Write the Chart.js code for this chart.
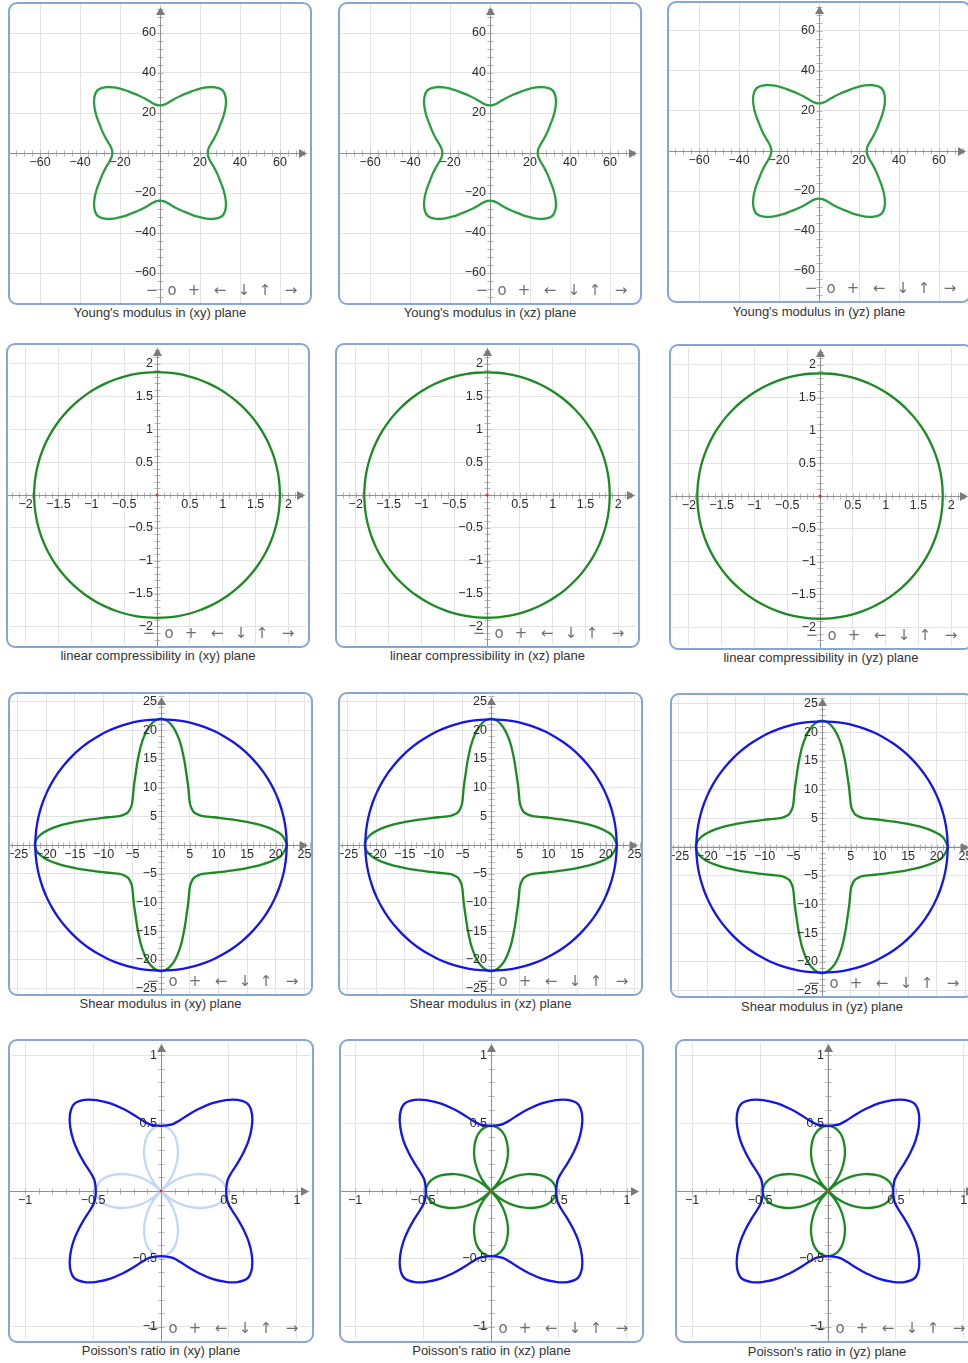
<!DOCTYPE html>
<html>
<head>
<meta charset="utf-8">
<title>Elastic properties in planes</title>
<script src="https://cdn.jsdelivr.net/npm/chart.js@4.4.1/dist/chart.umd.min.js"></script>
<style>
    body {
        margin: 0;
        width: 968px;
        height: 1363px;
        overflow: hidden;
        position: relative;
        background: #fff;
        font-family: Arial, "Liberation Sans", sans-serif;
    }
    .panel {
        position: absolute;
        box-sizing: border-box;
        border: 2px solid #86a6d6;
        border-radius: 9px;
        overflow: hidden;
        background: #fff;
    }
    .panel canvas {
        position: absolute;
        left: -2px;
        top: -2px;
    }
    .caption {
        position: absolute;
        width: 320px;
        text-align: center;
        font-size: 13px;
        line-height: 15px;
        color: #333;
    }
</style>
</head>
<body>
<script>
// Polar angle (deg) of the first octant; the curves have cubic symmetry
const octantAngles = [0, 5, 10, 15, 20, 25, 30, 35, 40, 45];

// Radii at those angles
const youngRadius = [23.8, 24.3, 25.8, 28.0, 30.5, 33.2, 36.6, 40.0, 42.9, 44.3];
const compressRadius = [1.87, 1.87, 1.87, 1.87, 1.87, 1.87, 1.87, 1.87, 1.87, 1.87];
const shearMaxRadius = [21.9, 21.9, 21.9, 21.9, 21.9, 21.9, 21.9, 21.9, 21.9, 21.9];
const shearMinRadius = [22.0, 21.0, 18.5, 15.5, 13.0, 11.2, 9.8, 8.8, 8.3, 8.1];
const poissonMaxRadius = [0.48, 0.485, 0.50, 0.54, 0.60, 0.67, 0.745, 0.815, 0.875, 0.905];
const poissonMinRadius = [0.48, 0.472, 0.448, 0.41, 0.355, 0.295, 0.225, 0.153, 0.077, 0];

// Tick labels shown on the axes
const youngTicks = [-60, -40, -20, 20, 40, 60];
const compressTicks = [-2, -1.5, -1, -0.5, 0.5, 1, 1.5, 2];
const shearTicks = [-25, -20, -15, -10, -5, 5, 10, 15, 20, 25];
const poissonTicks = [-1, -0.5, 0.5, 1];

const titles = {
    young: "Young's modulus",
    compress: 'linear compressibility',
    shear: 'Shear modulus',
    poisson: "Poisson's ratio"
};

const GREEN = '#1c8a22';
const YOUNG_GREEN = '#2a9d40';
const BLUE = '#1414ec';
const PALE_BLUE = '#c4d7f6';

// Panel layout (page pixels)
const panels = [
    { kind: 'young', plane: 'xy', left: 8, top: 2, w: 304, h: 303, ox: 152, oy: 151, ppu: 2.0, capY: 313 },
    { kind: 'young', plane: 'xz', left: 338, top: 2, w: 304, h: 303, ox: 152, oy: 151, ppu: 2.0, capY: 313 },
    { kind: 'young', plane: 'yz', left: 667, top: 1, w: 304, h: 302, ox: 152, oy: 150, ppu: 2.0, capY: 312 },
    { kind: 'compress', plane: 'xy', left: 6, top: 343, w: 304, h: 305, ox: 151, oy: 152, ppu: 67.5, capY: 656 },
    { kind: 'compress', plane: 'xz', left: 335, top: 343, w: 305, h: 305, ox: 152, oy: 152, ppu: 67.4, capY: 656 },
    { kind: 'compress', plane: 'yz', left: 669, top: 344, w: 304, h: 306, ox: 151, oy: 152, ppu: 67.4, capY: 658 },
    { kind: 'shear', plane: 'xy', left: 8, top: 692, w: 305, h: 304, ox: 153, oy: 153, ppu: 5.74, capY: 1004 },
    { kind: 'shear', plane: 'xz', left: 338, top: 692, w: 305, h: 304, ox: 153, oy: 153, ppu: 5.74, capY: 1004 },
    { kind: 'shear', plane: 'yz', left: 670, top: 693, w: 304, h: 305, ox: 152, oy: 154, ppu: 5.74, capY: 1007 },
    { kind: 'poisson', plane: 'xy', left: 8, top: 1039, w: 306, h: 304, ox: 153, oy: 152, ppu: 139.5, capY: 1351 },
    { kind: 'poisson', plane: 'xz', left: 339, top: 1039, w: 305, h: 304, ox: 152, oy: 152, ppu: 139.5, capY: 1351 },
    { kind: 'poisson', plane: 'yz', left: 675, top: 1039, w: 304, h: 304, ox: 153, oy: 152, ppu: 139.5, capY: 1352 }
];

// toolbar glyphs under each plot, offsets from the y axis
const toolbar = ['\u2212', 'o', '+', '\u2190', '\u2193', '\u2191', '\u2192'];
const toolbarOffsets = [-8, 12, 34, 60, 84, 105, 131];

// Turn one octant of radii into a closed curve using the cubic symmetry
function curvePoints(radii) {
    const n = octantAngles.length;
    const pts = [];
    for (let k = 0; k < 8; k++) {
        for (let i = 0; i < n - 1; i++) {
            const r = k % 2 === 0 ? radii[i] : radii[n - 1 - i];
            const t = (k * 45 + octantAngles[i]) * Math.PI / 180;
            pts.push({ x: r * Math.cos(t), y: r * Math.sin(t) });
        }
    }
    pts.push({ x: pts[0].x, y: pts[0].y });
    return pts;
}

function fmt(v) {
    return v < 0 ? '\u2212' + Math.abs(v) : String(v);
}

const axesPlugin = {
    id: 'axes',
    beforeDatasetsDraw(chart, args, opts) {
        const { ctx, width, height } = chart;
        const x = chart.scales.x, y = chart.scales.y;
        const ox = Math.round(x.getPixelForValue(0)) + 0.5;
        const oy = Math.round(y.getPixelForValue(0)) + 0.5;
        ctx.save();

        // small ticks along the axes
        ctx.strokeStyle = '#b5b5b5';
        ctx.lineWidth = 1;
        ctx.beginPath();
        const m = opts.minor;
        for (let i = Math.ceil(x.min / m); i * m <= x.max; i++) {
            const px = Math.round(x.getPixelForValue(i * m)) + 0.5;
            ctx.moveTo(px, oy - 3);
            ctx.lineTo(px, oy + 3);
        }
        for (let i = Math.ceil(y.min / m); i * m <= y.max; i++) {
            const py = Math.round(y.getPixelForValue(i * m)) + 0.5;
            ctx.moveTo(ox - 3, py);
            ctx.lineTo(ox + 3, py);
        }
        ctx.stroke();

        // axis lines
        ctx.strokeStyle = '#8f8f8f';
        ctx.beginPath();
        ctx.moveTo(0, oy);
        ctx.lineTo(width - 8, oy);
        ctx.moveTo(ox, height);
        ctx.lineTo(ox, 8);
        ctx.stroke();

        // arrow heads
        ctx.fillStyle = '#7a7a7a';
        ctx.beginPath();
        ctx.moveTo(width - 5, oy);
        ctx.lineTo(width - 13, oy - 4.5);
        ctx.lineTo(width - 13, oy + 4.5);
        ctx.closePath();
        ctx.fill();
        ctx.beginPath();
        ctx.moveTo(ox, 5);
        ctx.lineTo(ox - 4.5, 13);
        ctx.lineTo(ox + 4.5, 13);
        ctx.closePath();
        ctx.fill();
        ctx.restore();
    },
    afterDatasetsDraw(chart, args, opts) {
        const { ctx, height } = chart;
        const x = chart.scales.x, y = chart.scales.y;
        const ox = x.getPixelForValue(0);
        const oy = y.getPixelForValue(0);
        ctx.save();
        ctx.font = '12.5px Arial, "Liberation Sans", sans-serif';
        ctx.fillStyle = '#2b2b2b';
        ctx.textBaseline = 'middle';

        ctx.textAlign = 'center';
        opts.labels.forEach(v => {
            ctx.fillText(fmt(v), x.getPixelForValue(v), oy + 10);
        });
        ctx.textAlign = 'right';
        opts.labels.forEach(v => {
            ctx.fillText(fmt(v), ox - 4, y.getPixelForValue(v));
        });

        // zoom / pan buttons
        ctx.font = '15px "DejaVu Sans", Arial, sans-serif';
        ctx.fillStyle = '#6f6f6f';
        ctx.textAlign = 'center';
        toolbar.forEach((g, i) => {
            ctx.fillText(g, ox + toolbarOffsets[i], height - 14);
        });
        ctx.restore();
    }
};

function seriesFor(p) {
    if (p.kind === 'young') {
        return { labels: youngTicks, minor: 4, lines: [{ r: youngRadius, color: YOUNG_GREEN }] };
    }
    if (p.kind === 'compress') {
        return { labels: compressTicks, minor: 0.1, dot: true, lines: [{ r: compressRadius, color: GREEN }] };
    }
    if (p.kind === 'shear') {
        return {
            labels: shearTicks, minor: 1,
            lines: [{ r: shearMaxRadius, color: BLUE }, { r: shearMinRadius, color: GREEN }]
        };
    }
    return {
        labels: poissonTicks, minor: 0.1, dot: true,
        lines: [
            { r: poissonMaxRadius, color: BLUE },
            { r: poissonMinRadius, color: p.plane === 'xy' ? PALE_BLUE : GREEN }
        ]
    };
}

function scaleOptions(min, max, grid) {
    return {
        type: 'linear',
        min: min,
        max: max,
        ticks: { display: false },
        border: { display: false },
        grid: { color: '#e3e3e3', lineWidth: 1, drawTicks: false },
        afterBuildTicks: scale => {
            scale.ticks = grid.map(v => ({ value: v }));
        }
    };
}

panels.forEach(p => {
    const box = document.createElement('div');
    box.className = 'panel';
    box.style.left = p.left + 'px';
    box.style.top = p.top + 'px';
    box.style.width = p.w + 'px';
    box.style.height = p.h + 'px';
    const canvas = document.createElement('canvas');
    canvas.width = p.w;
    canvas.height = p.h;
    canvas.style.width = p.w + 'px';
    canvas.style.height = p.h + 'px';
    box.appendChild(canvas);
    document.body.appendChild(box);

    const cap = document.createElement('div');
    cap.className = 'caption';
    cap.textContent = titles[p.kind] + ' in (' + p.plane + ') plane';
    cap.style.left = (p.left + p.w / 2 - 160) + 'px';
    cap.style.top = (p.capY - 8) + 'px';
    document.body.appendChild(cap);

    const s = seriesFor(p);
    const grid = [0].concat(s.labels);

    const datasets = s.lines.map(l => ({
        data: curvePoints(l.r),
        showLine: true,
        borderColor: l.color,
        borderWidth: 2.3,
        pointRadius: 0,
        tension: 0.4,
        fill: false
    }));
    if (s.dot) {
        datasets.unshift({
            data: [{ x: 0, y: 0 }],
            pointRadius: 1.6,
            pointBackgroundColor: '#ff2020',
            pointBorderWidth: 0,
            showLine: false
        });
    }

    new Chart(canvas, {
        type: 'scatter',
        data: { datasets: datasets },
        options: {
            responsive: false,
            animation: false,
            events: [],
            devicePixelRatio: 1,
            layout: { padding: 0 },
            plugins: {
                legend: { display: false },
                tooltip: { enabled: false },
                axes: { labels: s.labels, minor: s.minor }
            },
            scales: {
                x: scaleOptions(-p.ox / p.ppu, (p.w - p.ox) / p.ppu, grid),
                y: scaleOptions(-(p.h - p.oy) / p.ppu, p.oy / p.ppu, grid)
            }
        },
        plugins: [axesPlugin]
    });
});
</script>
</body>
</html>
